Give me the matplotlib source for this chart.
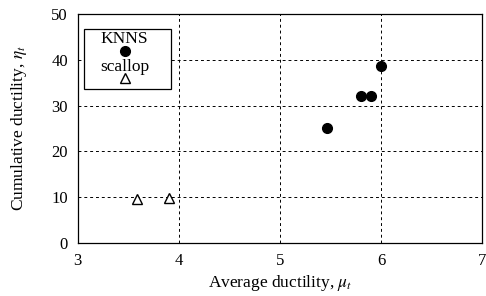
import numpy as np
import matplotlib
matplotlib.use('Agg')
import matplotlib.pyplot as plt
from matplotlib.patches import Rectangle

plt.rcParams['font.family'] = 'Liberation Serif'
plt.rcParams['mathtext.fontset'] = 'stix'

# data
knns_mu = [5.47, 5.80, 5.90, 6.00]
knns_eta = [25.2, 32.0, 32.0, 38.7]
scallop_mu = [3.59, 3.90]
scallop_eta = [9.6, 9.8]

xticks = [3, 4, 5, 6, 7]
yticks = [0, 10, 20, 30, 40, 50]

fig = plt.figure(figsize=(4.86, 2.96), dpi=100)
ax = fig.add_axes([0.160, 0.179, 0.832, 0.774])

ax.plot(knns_mu, knns_eta, 'o', color='k', markersize=7, linestyle='none')
ax.plot(scallop_mu, scallop_eta, '^', markerfacecolor='white', markeredgecolor='k',
        markersize=7, markeredgewidth=1.0, linestyle='none')

ax.set_xlim(3, 7)
ax.set_ylim(0, 50)
ax.set_xticks(xticks)
ax.set_yticks(yticks)
ax.tick_params(direction='in', length=0, labelsize=12, pad=7)
ax.grid(True, color='k', linestyle=(0, (3, 3)), linewidth=0.7)
for s in ax.spines.values():
    s.set_linewidth(0.9)

ax.set_xlabel(r'Average ductility, $\mu_t$', fontsize=12.5, labelpad=3)
ax.set_ylabel(r'Cumulative ductility, $\eta_t$', fontsize=12.5, labelpad=16)

# hand-made legend box
ax.add_patch(Rectangle((0.015, 0.672), 0.215, 0.262, transform=ax.transAxes,
                       facecolor='white', edgecolor='k', linewidth=0.9, zorder=5))
ax.text(0.116, 0.89, 'KNNS', transform=ax.transAxes, ha='center', va='center',
        fontsize=12.5, zorder=6)
ax.plot([0.116], [0.838], 'o', color='k', markersize=7, transform=ax.transAxes, zorder=6)
ax.text(0.116, 0.769, 'scallop', transform=ax.transAxes, ha='center', va='center',
        fontsize=12.5, zorder=6)
ax.plot([0.116], [0.72], '^', markerfacecolor='white', markeredgecolor='k',
        markersize=7, transform=ax.transAxes, zorder=6)

fig.savefig('out.png', dpi=100)
